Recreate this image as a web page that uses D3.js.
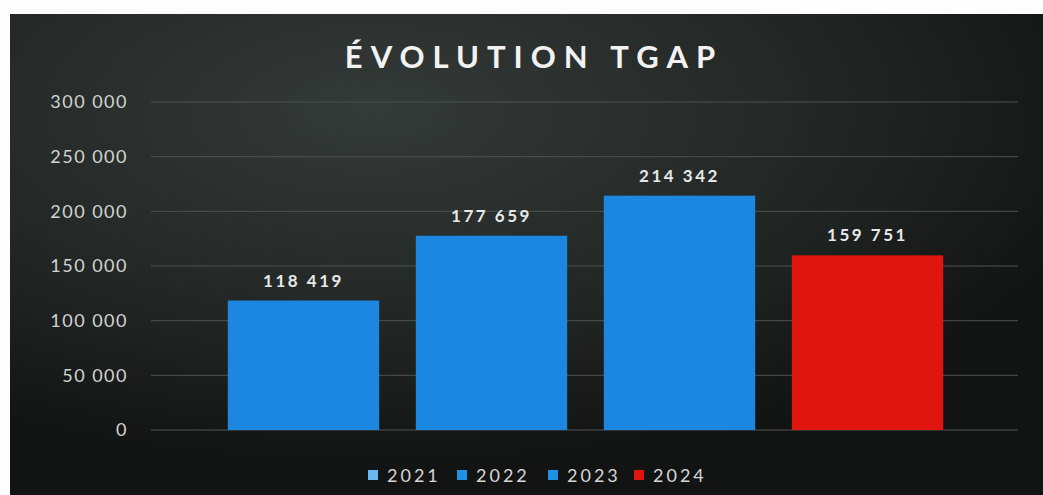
<!DOCTYPE html>
<html>
<head>
<meta charset="utf-8">
<script src="https://cdn.jsdelivr.net/npm/d3@7"></script>
<style>
  html, body { margin: 0; padding: 0; background: #fdfdfd; }
  svg { display: block; font-family: Lato, "Open Sans", sans-serif; }
</style>
</head>
<body>
<div class="container"></div>
<script>
const years = ['2021', '2022', '2023', '2024'];
const values = [118419, 177659, 214342, 159751];
const barColors = ['#1b87e0', '#1b87e0', '#1b87e0', '#e0150f'];
const legendColors = ['#6ab8f2', '#1e90e6', '#1e90e6', '#e0150f'];
const yTicks = [0, 50000, 100000, 150000, 200000, 250000, 300000];

const w = 1043;
const h = 495;
const margin = { top: 102, left: 151, right: 25, bottom: 65 };

const fr = d3.formatLocale({ decimal: ',', thousands: ' ', grouping: [3], currency: ['', ' €'] });
const fmt = fr.format(',d');

const svg = d3.select('.container')
    .append('svg')
    .attr('width', w)
    .attr('height', h);

const defs = svg.append('defs');
const grad = defs.append('radialGradient')
    .attr('id', 'bg')
    .attr('cx', '35%').attr('cy', '20%').attr('r', '75%');
grad.append('stop').attr('offset', '0%').attr('stop-color', '#343a37');
grad.append('stop').attr('offset', '55%').attr('stop-color', '#232826');
grad.append('stop').attr('offset', '100%').attr('stop-color', '#121313');

// dark panel
svg.append('rect')
    .attr('x', 10).attr('y', 14)
    .attr('width', w - 10).attr('height', h - 14)
    .attr('fill', 'url(#bg)');

svg.append('text')
    .text('ÉVOLUTION TGAP')
    .attr('x', 534)
    .attr('y', 68)
    .attr('text-anchor', 'middle')
    .style('font-size', '31px')
    .style('font-weight', 'bold')
    .style('letter-spacing', '8px')
    .style('fill', '#f2f2f2');

const yScale = d3.scaleLinear().domain([0, 300000]).range([h - margin.bottom, margin.top]);
const xScale = d3.scaleBand().domain(years).range([209, 962]).paddingInner(0.195).paddingOuter(0.1);

// grid
svg.append('g')
    .selectAll('line')
    .data(yTicks)
    .join('line')
    .attr('x1', margin.left)
    .attr('x2', w - margin.right)
    .attr('y1', d => yScale(d))
    .attr('y2', d => yScale(d))
    .attr('stroke', '#4c5250')
    .attr('stroke-width', 1);

// y axis
const yAxis = d3.axisLeft(yScale).tickValues(yTicks).tickFormat(fmt).tickSize(0).tickPadding(0);
const gy = svg.append('g')
    .attr('transform', 'translate(128, 0)')
    .call(yAxis);
gy.select('.domain').remove();
gy.selectAll('text')
    .style('font-size', '18px')
    .style('fill', '#d2d4d3')
    .style('letter-spacing', '1.5px')
    .style('font-family', 'Lato, sans-serif');

// bars
svg.append('g')
    .selectAll('rect')
    .data(years)
    .join('rect')
    .attr('x', d => xScale(d))
    .attr('y', (d, i) => yScale(values[i]))
    .attr('width', xScale.bandwidth())
    .attr('height', (d, i) => yScale(0) - yScale(values[i]))
    .attr('fill', (d, i) => barColors[i]);

// data labels
svg.append('g')
    .selectAll('text')
    .data(years)
    .join('text')
    .text((d, i) => fmt(values[i]))
    .attr('x', d => xScale(d) + xScale.bandwidth() / 2)
    .attr('y', (d, i) => yScale(values[i]) - 14)
    .attr('text-anchor', 'middle')
    .style('font-size', '17px')
    .style('font-weight', 'bold')
    .style('letter-spacing', '2.5px')
    .style('fill', '#e8e8e8');

// legend
const legendX = [368, 457, 548, 634];
const lg = svg.append('g')
    .selectAll('g')
    .data(years)
    .join('g')
    .attr('transform', (d, i) => `translate(${legendX[i]}, 475)`);
lg.append('rect')
    .attr('x', 0).attr('y', -5)
    .attr('width', 10).attr('height', 10)
    .attr('fill', (d, i) => legendColors[i]);
lg.append('text')
    .text(d => d)
    .attr('x', 19)
    .attr('y', 6.5)
    .style('font-size', '18px')
    .style('letter-spacing', '3px')
    .style('fill', '#d6d6d6');
</script>
</body>
</html>
